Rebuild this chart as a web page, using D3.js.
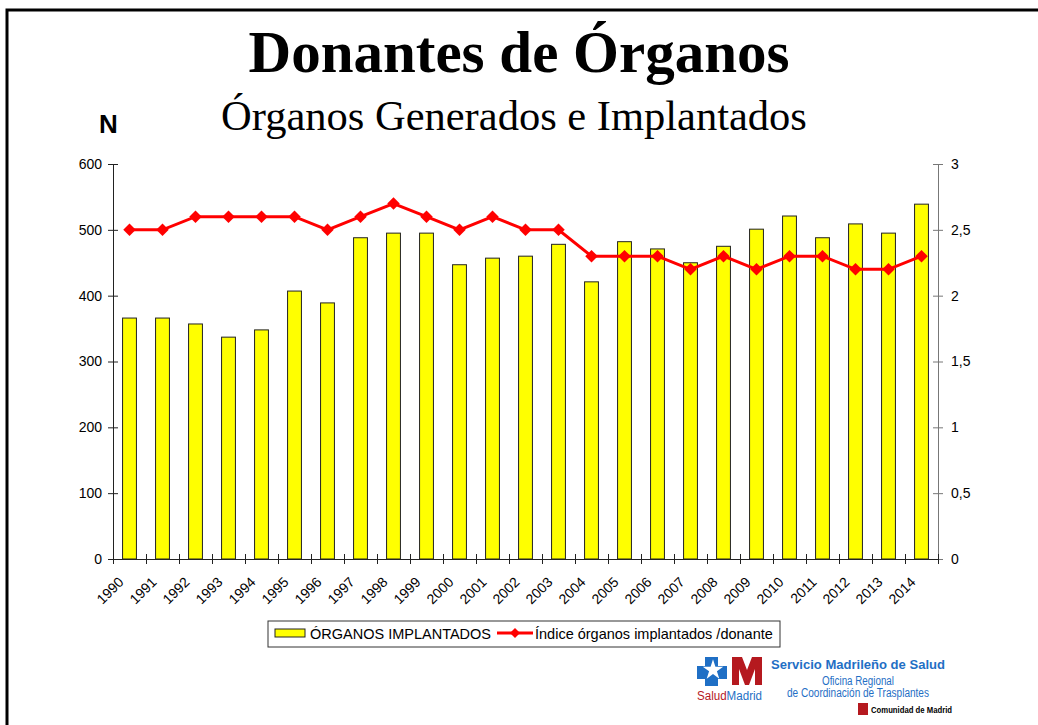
<!DOCTYPE html>
<html>
<head>
<meta charset="utf-8">
<script src="https://cdn.jsdelivr.net/npm/d3@7"></script>
<style>
  body { margin: 0; background: #fff; }
  svg { display: block; }
</style>
</head>
<body>
<svg width="1038" height="725"></svg>
<script>
const years = ["1990","1991","1992","1993","1994","1995","1996","1997","1998","1999","2000","2001","2002",
  "2003","2004","2005","2006","2007","2008","2009","2010","2011","2012","2013","2014"];
const implantados = [366, 366, 357, 337, 348, 407, 389, 488, 495, 495, 447, 457, 460,
  478, 421, 482, 471, 450, 475, 501, 521, 488, 509, 495, 539];
const indice = [2.5, 2.5, 2.6, 2.6, 2.6, 2.6, 2.5, 2.6, 2.7, 2.6, 2.5, 2.6, 2.5,
  2.5, 2.3, 2.3, 2.3, 2.2, 2.3, 2.2, 2.3, 2.3, 2.2, 2.2, 2.3];
const leftTicks = [0, 100, 200, 300, 400, 500, 600];
const rightTicks = [0, 0.5, 1, 1.5, 2, 2.5, 3];

const svg = d3.select("svg");
const sans = "'Liberation Sans', Arial, sans-serif";
const serif = "'Liberation Serif', 'Times New Roman', serif";

// frame (only top and left edges show)
svg.append("path").attr("d", "M7,725 V10 H1038").attr("fill", "none")
  .attr("stroke", "#000").attr("stroke-width", 3);

// titles
svg.append("text").attr("x", 519).attr("y", 72).attr("text-anchor", "middle")
  .attr("font-family", serif).attr("font-weight", "bold").attr("font-size", 59)
  .text("Donantes de Órganos");
svg.append("text").attr("x", 514).attr("y", 130).attr("text-anchor", "middle")
  .attr("font-family", serif).attr("font-size", 42.5)
  .text("Órganos Generados e Implantados");
svg.append("text").attr("x", 99).attr("y", 133)
  .attr("font-family", sans).attr("font-weight", "bold").attr("font-size", 26)
  .text("N");

const plotLeft = 113, plotRight = 938, plotTop = 164, plotBottom = 559;

const x = d3.scaleBand().domain(years).range([plotLeft, plotRight]).paddingInner(0).paddingOuter(0);
const xTick = d3.scaleLinear().domain([0, years.length]).range([plotLeft, plotRight]);
const yL = d3.scaleLinear().domain([0, 600]).range([plotBottom, plotTop]);
const yR = d3.scaleLinear().domain([0, 3]).range([plotBottom, plotTop]);

// bars
const barW = x.bandwidth() * 0.42;
svg.append("g").selectAll("rect").data(implantados).enter().append("rect")
  .attr("x", (d, i) => x(years[i]) + x.bandwidth() / 2 - barW / 2)
  .attr("y", d => yL(d))
  .attr("width", barW)
  .attr("height", d => plotBottom - yL(d))
  .attr("fill", "#ffff00")
  .attr("stroke", "#222")
  .attr("stroke-width", 1);

// left axis
const gL = svg.append("g").attr("transform", `translate(${plotLeft},0)`)
  .call(d3.axisLeft(yL).tickValues(leftTicks).tickSize(5).tickPadding(6));
gL.selectAll(".tick line").attr("x2", -5).attr("x1", 5);
gL.select(".domain").attr("stroke", "#222");
gL.selectAll(".tick line").attr("stroke", "#222");
gL.selectAll("text").attr("font-family", sans).attr("font-size", 14).attr("fill", "#000");

// right axis
const gR = svg.append("g").attr("transform", `translate(${plotRight},0)`)
  .call(d3.axisRight(yR).tickValues(rightTicks).tickSize(5).tickPadding(8)
    .tickFormat(d => String(d).replace(".", ",")));
gR.selectAll(".tick line").attr("x1", -5).attr("stroke", "#777");
gR.select(".domain").attr("stroke", "#777");
gR.selectAll("text").attr("font-family", sans).attr("font-size", 14).attr("fill", "#000");

// bottom axis, ticks at band edges
const gB = svg.append("g").attr("transform", `translate(0,${plotBottom})`)
  .call(d3.axisBottom(xTick).tickValues(d3.range(years.length + 1)).tickSize(5).tickFormat(""));
gB.selectAll(".tick line").attr("y1", -5).attr("stroke", "#222");
gB.select(".domain").attr("stroke", "#222");

svg.append("g").selectAll("text").data(years).enter().append("text")
  .attr("transform", d => `translate(${x(d) + x.bandwidth() / 2 - 5},${plotBottom + 24}) rotate(-45)`)
  .attr("text-anchor", "end")
  .attr("font-family", sans).attr("font-size", 14)
  .text(d => d);

// line
const line = d3.line()
  .x((d, i) => x(years[i]) + x.bandwidth() / 2)
  .y(d => yR(d));
svg.append("path").datum(indice).attr("d", line)
  .attr("fill", "none").attr("stroke", "#ff0000").attr("stroke-width", 3);
svg.append("g").selectAll("path").data(indice).enter().append("path")
  .attr("d", d3.symbol(d3.symbolSquare, 78))
  .attr("transform", (d, i) => `translate(${x(years[i]) + x.bandwidth() / 2},${yR(d)}) rotate(45)`)
  .attr("fill", "#ff0000");

// legend
const lg = svg.append("g");
lg.append("rect").attr("x", 268).attr("y", 621).attr("width", 512).attr("height", 26)
  .attr("fill", "#fff").attr("stroke", "#333").attr("stroke-width", 1);
lg.append("rect").attr("x", 275).attr("y", 629).attr("width", 30).attr("height", 8)
  .attr("fill", "#ffff00").attr("stroke", "#222");
lg.append("text").attr("x", 310).attr("y", 639).attr("font-family", sans).attr("font-size", 14.5)
  .text("ÓRGANOS IMPLANTADOS");
lg.append("line").attr("x1", 497).attr("x2", 533).attr("y1", 633).attr("y2", 633)
  .attr("stroke", "#ff0000").attr("stroke-width", 3);
lg.append("path").attr("d", d3.symbol(d3.symbolSquare, 50))
  .attr("transform", "translate(515,633) rotate(45)").attr("fill", "#ff0000");
lg.append("text").attr("x", 535).attr("y", 639).attr("font-family", sans).attr("font-size", 14.5)
  .text("Índice órganos implantados /donante");

// logo block
const logo = svg.append("g");
const blue = "#1f6fc5", red = "#b5191f";
// blue cross with star
logo.append("path")
  .attr("d", "M705,657 H718 V666 H727 V679 H718 V686 H705 V679 H697 V666 H705 Z")
  .attr("fill", blue);
logo.append("path")
  .attr("d", d3.symbol(d3.symbolStar, 130))
  .attr("transform", "translate(713,670)").attr("fill", "#fff");
// red M
logo.append("path")
  .attr("d", "M732,657 H742 L747,670 L752,657 H762 V685 H755 V669 L749,685 H745 L739,669 V685 H732 Z")
  .attr("fill", red);
logo.append("text").attr("x", 697).attr("y", 700).attr("font-family", sans).attr("font-size", 12)
  .attr("textLength", 65).attr("lengthAdjust", "spacingAndGlyphs")
  .call(t => {
    t.append("tspan").attr("fill", red).text("Salud");
    t.append("tspan").attr("fill", blue).text("Madrid");
  });
logo.append("text").attr("x", 771).attr("y", 669).attr("font-family", sans).attr("font-weight", "bold")
  .attr("font-size", 13).attr("fill", blue).attr("textLength", 174).attr("lengthAdjust", "spacingAndGlyphs")
  .text("Servicio Madrileño de Salud");
logo.append("text").attr("x", 822).attr("y", 685).attr("font-family", sans)
  .attr("font-size", 12.5).attr("fill", blue).attr("textLength", 72).attr("lengthAdjust", "spacingAndGlyphs")
  .text("Oficina Regional");
logo.append("text").attr("x", 787).attr("y", 697).attr("font-family", sans)
  .attr("font-size", 12.5).attr("fill", blue).attr("textLength", 142).attr("lengthAdjust", "spacingAndGlyphs")
  .text("de Coordinación de Trasplantes");
logo.append("rect").attr("x", 858).attr("y", 703).attr("width", 10).attr("height", 12).attr("fill", red);
logo.append("text").attr("x", 871).attr("y", 713).attr("font-family", sans).attr("font-weight", "bold")
  .attr("font-size", 9).attr("fill", "#000").attr("textLength", 81).attr("lengthAdjust", "spacingAndGlyphs")
  .text("Comunidad de Madrid");
</script>
</body>
</html>
